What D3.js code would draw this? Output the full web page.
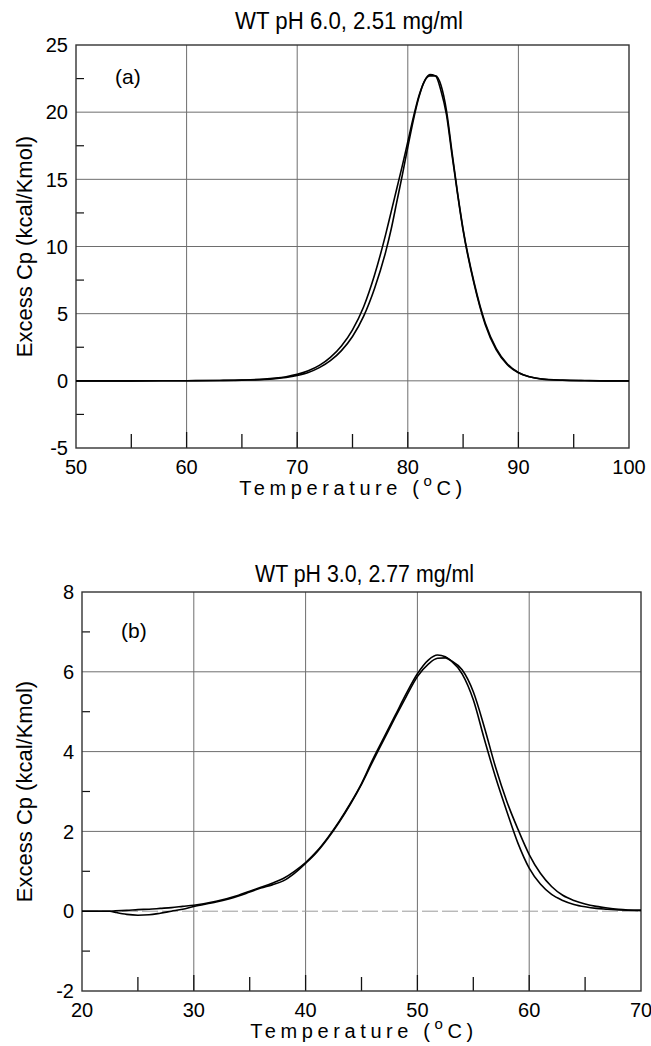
<!DOCTYPE html>
<html>
<head>
<meta charset="utf-8">
<script src="https://cdn.jsdelivr.net/npm/d3@7"></script>
<style>
  body { margin: 0; background: #fff; }
  svg { display: block; font-family: "Liberation Sans", Arial, sans-serif; }
</style>
</head>
<body>
<div id="chart"></div>
<script>
// panel (a): WT pH 6.0, 2.51 mg/ml
const tempA = [50,55,60,63,65,67,68,69,70,71,72,73,74,75,76,77,78,78.5,79,79.5,80,80.5,81,81.5,82,82.5,83,83.5,84,84.5,85,86,87,88,89,90,91,92,94,96,98,100];
const cpA1 = [0,0,0.01,0.03,0.06,0.13,0.2,0.31,0.48,0.75,1.15,1.75,2.6,3.8,5.5,7.9,10.9,12.6,14.3,16.0,17.8,19.6,21.2,22.3,22.8,22.7,21.6,19.8,16.8,13.9,11.2,7.2,4.2,2.3,1.2,0.6,0.3,0.14,0.04,0.01,0,0];
const cpA2 = [0,0,0.01,0.02,0.05,0.1,0.16,0.25,0.4,0.62,0.98,1.5,2.25,3.3,4.8,6.9,9.6,11.3,13.3,15.3,17.4,19.4,21.1,22.3,22.7,22.7,22.0,20.1,17.0,14.0,11.3,7.3,4.3,2.4,1.25,0.62,0.3,0.15,0.05,0.02,0,0];
const xTicksA = [50,60,70,80,90,100];
const yTicksA = [-5,0,5,10,15,20,25];

// panel (b): WT pH 3.0, 2.77 mg/ml
const tempB = [20,22,22.5,23,24,25,26,27,28,29,30,32,34,35,36,37,38,39,40,41,42,43,44,45,46,47,48,49,50,51,51.8,52.5,53,54,55,56,57,58,59,60,61,62,63,64,65,66,67,68,70];
const cpB1 = [0,0,0,0.01,0.02,0.04,0.05,0.07,0.09,0.12,0.15,0.25,0.4,0.5,0.6,0.7,0.82,1.0,1.22,1.5,1.85,2.25,2.7,3.2,3.8,4.35,4.9,5.45,5.95,6.3,6.42,6.38,6.28,5.95,5.3,4.3,3.35,2.5,1.7,1.08,0.68,0.42,0.27,0.17,0.11,0.07,0.05,0.03,0.02];
const cpB2 = [0,0,0,-0.03,-0.08,-0.1,-0.09,-0.05,0,0.05,0.12,0.23,0.38,0.48,0.58,0.66,0.76,0.95,1.2,1.48,1.83,2.23,2.68,3.18,3.75,4.3,4.85,5.38,5.88,6.2,6.34,6.35,6.28,6.05,5.5,4.6,3.6,2.75,2.05,1.42,0.95,0.62,0.4,0.27,0.18,0.12,0.08,0.05,0.02];
const xTicksB = [20,30,40,50,60,70];
const yTicksB = [-2,0,2,4,6,8];

const W = 651, H = 1046;
const svg = d3.select("#chart").append("svg")
    .attr("width", W)
    .attr("height", H);

function drawPanel(p) {
  const x = d3.scaleLinear().domain(p.xDomain).range([p.left, p.right]);
  const y = d3.scaleLinear().domain(p.yDomain).range([p.bottom, p.top]);
  const g = svg.append("g");

  // grid
  g.selectAll(".vgrid")
    .data(p.xTicks.slice(1, -1))
    .enter().append("line")
      .attr("x1", d => x(d)).attr("x2", d => x(d))
      .attr("y1", p.top).attr("y2", p.bottom)
      .attr("stroke", "#6e6e6e").attr("stroke-width", 1);
  g.selectAll(".hgrid")
    .data(p.yTicks.slice(1, -1))
    .enter().append("line")
      .attr("x1", p.left).attr("x2", p.right)
      .attr("y1", d => y(d)).attr("y2", d => y(d))
      .attr("stroke", d => (d === 0 && p.dashZero) ? "#9a9a9a" : "#6e6e6e")
      .attr("stroke-width", 1)
      .attr("stroke-dasharray", d => (d === 0 && p.dashZero) ? "16,4" : null);

  // minor ticks on x (from the bottom) and y (from the left)
  const xMinor = p.xTicks.slice(0, -1).map(d => d + (p.xTicks[1] - p.xTicks[0]) / 2);
  g.selectAll(".xminor")
    .data(xMinor)
    .enter().append("line")
      .attr("x1", d => x(d)).attr("x2", d => x(d))
      .attr("y1", p.bottom).attr("y2", p.bottom - 14)
      .attr("stroke", "#111").attr("stroke-width", 1.3);
  g.selectAll(".xmajor")
    .data(p.xTicks.slice(1, -1))
    .enter().append("line")
      .attr("x1", d => x(d)).attr("x2", d => x(d))
      .attr("y1", p.bottom).attr("y2", p.bottom - 16)
      .attr("stroke", "#111").attr("stroke-width", 1.3);
  const yMinor = p.yTicks.slice(0, -1).map(d => d + (p.yTicks[1] - p.yTicks[0]) / 2);
  g.selectAll(".yminor")
    .data(yMinor)
    .enter().append("line")
      .attr("x1", p.left).attr("x2", p.left + 8)
      .attr("y1", d => y(d)).attr("y2", d => y(d))
      .attr("stroke", "#111").attr("stroke-width", 1.2);

  // frame
  g.append("rect")
    .attr("x", p.left).attr("y", p.top)
    .attr("width", p.right - p.left).attr("height", p.bottom - p.top)
    .attr("fill", "none").attr("stroke", "#333").attr("stroke-width", 1.4);

  // tick labels
  g.selectAll(".xlab")
    .data(p.xTicks)
    .enter().append("text")
      .attr("x", d => x(d)).attr("y", p.bottom + 26)
      .attr("text-anchor", "middle")
      .attr("font-size", 20)
      .text(d => d);
  g.selectAll(".ylab")
    .data(p.yTicks)
    .enter().append("text")
      .attr("x", p.left - 8).attr("y", d => y(d))
      .attr("dy", "0.36em")
      .attr("text-anchor", "end")
      .attr("font-size", 20)
      .text(d => d);

  // curves
  const line = d3.line()
    .x(d => x(d[0]))
    .y(d => y(d[1]))
    .curve(d3.curveMonotoneX);
  p.series.forEach(s => {
    g.append("path")
      .datum(p.temps.map((t, i) => [t, s[i]]))
      .attr("d", line)
      .attr("fill", "none")
      .attr("stroke", "#000")
      .attr("stroke-width", 1.6);
  });

  // title (condensed face in the original)
  g.append("text")
    .attr("x", p.titleX).attr("y", p.titleY)
    .attr("font-size", 23)
    .attr("textLength", p.titleW)
    .attr("lengthAdjust", "spacingAndGlyphs")
    .text(p.title);

  // panel letter
  g.append("text")
    .attr("x", p.left + 39).attr("y", p.letterY)
    .attr("font-size", 21)
    .text(p.letter);

  // y label
  const cy = (p.top + p.bottom) / 2;
  g.append("text")
    .attr("transform", "translate(32," + cy + ") rotate(-90)")
    .attr("text-anchor", "middle")
    .attr("font-size", 22)
    .text("Excess Cp (kcal/Kmol)");

  // x label
  const xl = g.append("text")
    .attr("x", p.xLabelX).attr("y", p.bottom + 47)
    .attr("text-anchor", "middle")
    .attr("font-size", 20)
    .attr("letter-spacing", "4.6px");
  xl.append("tspan").text("Temperature (");
  xl.append("tspan").attr("font-size", 15).attr("dy", -9).text("o");
  xl.append("tspan").attr("dy", 9).text("C)");
}

drawPanel({
  xDomain: [50, 100], yDomain: [-5, 25],
  left: 76, right: 629, top: 45, bottom: 448,
  xTicks: xTicksA, yTicks: yTicksA,
  temps: tempA, series: [cpA1, cpA2],
  title: "WT pH 6.0,  2.51 mg/ml", titleX: 235, titleY: 29, titleW: 228,
  letter: "(a)", letterY: 84, xLabelX: 353, dashZero: false
});

drawPanel({
  xDomain: [20, 70], yDomain: [-2, 8],
  left: 82, right: 641, top: 592, bottom: 991,
  xTicks: xTicksB, yTicks: yTicksB,
  temps: tempB, series: [cpB1, cpB2],
  title: "WT pH 3.0,  2.77 mg/ml", titleX: 255, titleY: 582, titleW: 219,
  letter: "(b)", letterY: 638, xLabelX: 364, dashZero: true
});
</script>
</body>
</html>
